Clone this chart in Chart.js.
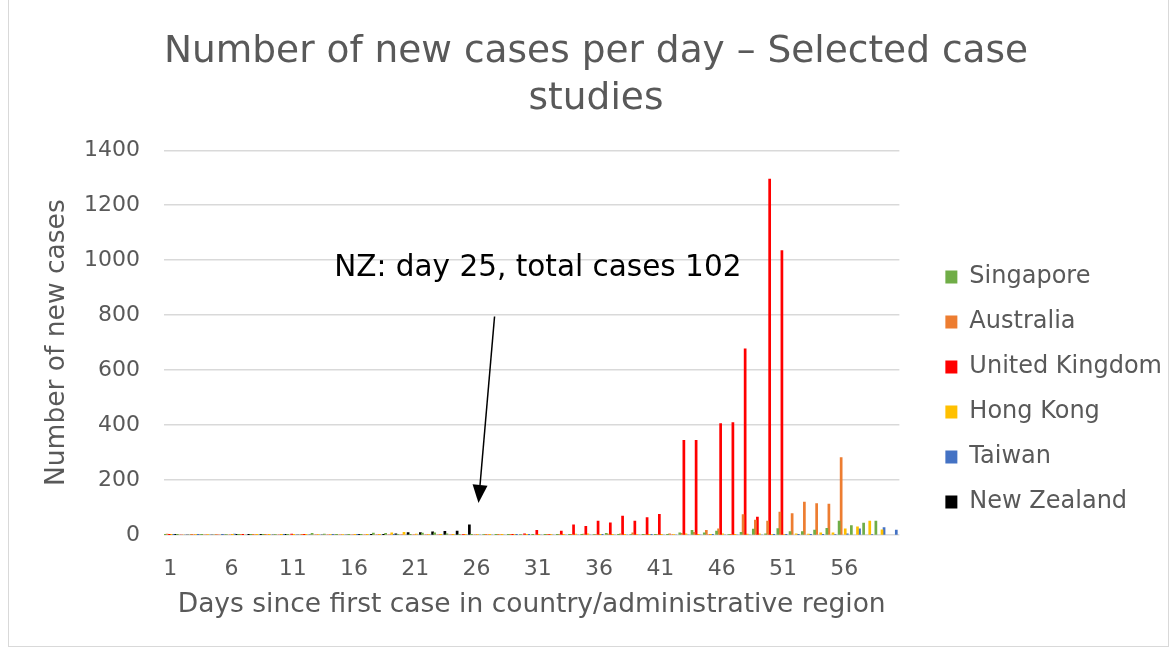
<!DOCTYPE html>
<html><head><meta charset="utf-8">
<script src="https://cdn.jsdelivr.net/npm/chart.js@4.4.1/dist/chart.umd.min.js"></script>
<style>
html,body{margin:0;padding:0;background:#fff;}
#wrap{position:relative;width:1176px;height:648px;overflow:hidden;}
#frame{position:absolute;left:8px;top:-1px;width:1159px;height:646px;border:1px solid #d9d9d9;pointer-events:none;}
canvas{position:absolute;left:0;top:0;}
</style></head><body>
<div id="wrap"><canvas id="c" width="1176" height="648"></canvas><div id="frame"></div></div>
<script>
// ---- Data ----
const days = ['1','2','3','4','5','6','7','8','9','10','11','12','13','14','15','16','17','18','19','20',
  '21','22','23','24','25','26','27','28','29','30','31','32','33','34','35','36','37','38','39','40',
  '41','42','43','44','45','46','47','48','49','50','51','52','53','54','55','56','57','58','59','60'];

const singapore = [1,2,0,1,0,3,1,2,2,3, 1,0,6,4,2,1,2,7,6,3, 2,7,8,5,3,2,3,1,1,3,
  1,2,2,1,1,3,6,2,3,2, 1,2,8,17,8,15,3,10,22,5, 24,13,13,18,25,51,35,44,51,null];
const australia = [4,0,1,0,3,0,2,1,1,0, 0,1,0,0,0,0,0,0,0,0, 0,0,0,0,0,0,2,1,2,0,
  0,2,3,2,4,3,4,5,8,3, 3,5,6,10,17,23,2,75,55,51, 84,78,120,115,113,282,null,null,null,null];
const unitedKingdom = [2,0,0,0,0,0,1,0,0,0, 4,1,0,0,0,0,0,0,0,0, 0,0,0,0,3,0,0,0,2,5,
  17,3,15,37,32,51,45,69,51,64, 76,0,345,345,0,406,409,678,66,1295, 1035,null,null,null,null,null,null,null,null,null];
const hongKong = [2,0,3,3,0,2,0,2,1,1, 1,2,3,3,3,1,1,2,8,10, 4,3,2,1,2,3,1,2,3,2,
  1,3,2,4,5,2,1,2,3,1, 2,3,5,2,1,5,2,4,5,3, 3,5,4,8,8,23,30,51,19,null];
const taiwan = [1,0,2,0,1,4,0,0,0,1, 0,0,0,1,0,1,0,0,2,0, 0,0,0,0,0,0,0,0,2,1,
  0,0,0,0,0,1,0,0,0,1, 0,0,0,0,1,0,0,0,0,2, 2,1,2,2,3,5,23,3,27,18];
const newZealand = [1,0,0,0,0,1,1,1,0,1, 0,0,0,0,0,1,2,2,5,9, 9,12,14,15,37,null,null,null,null,null,
  null,null,null,null,null,null,null,null,null,null, null,null,null,null,null,null,null,null,null,null,
  null,null,null,null,null,null,null,null,null,null];

const seriesNames = ['Singapore','Australia','United Kingdom','Hong Kong','Taiwan','New Zealand'];
const seriesValues = [singapore, australia, unitedKingdom, hongKong, taiwan, newZealand];
const seriesColors = ['#70AD47','#ED7D31','#FF0000','#FFC000','#4472C4','#000000'];

const yTicks = [0,200,400,600,800,1000,1200,1400];
const titleLines = ['Number of new cases per day \u2013 Selected case', 'studies'];
const xTitle = 'Days since first case in country/administrative region';
const yTitle = 'Number of new cases';

// annotation (positions in data coordinates: category index, value)
const note = {text:'NZ: day 25, total cases 102', textAt:[30.0, 972], arrowFrom:[26.47, 795], arrowTo:[25.16, 117]};

const FONT = "'DejaVu Sans', Verdana, sans-serif";
Chart.defaults.font.family = FONT;
Chart.defaults.color = '#595959';

const annotationPlugin = {
  id:'nzNote',
  afterDatasetsDraw(chart){
    const {ctx} = chart; const x = chart.scales.x, y = chart.scales.y;
    ctx.save();
    ctx.fillStyle = '#000'; ctx.strokeStyle = '#000';
    ctx.font = '29.5px ' + FONT; ctx.textAlign = 'center'; ctx.textBaseline = 'middle';
    ctx.fillText(note.text, x.getPixelForValue(note.textAt[0]), y.getPixelForValue(note.textAt[1]));
    const x1 = x.getPixelForValue(note.arrowFrom[0]), y1 = y.getPixelForValue(note.arrowFrom[1]);
    const x2 = x.getPixelForValue(note.arrowTo[0]), y2 = y.getPixelForValue(note.arrowTo[1]);
    const ang = Math.atan2(y2-y1, x2-x1), hl = 18, hw = 7.5;
    const bx = x2 - hl*Math.cos(ang), by = y2 - hl*Math.sin(ang);
    ctx.lineWidth = 1.5;
    ctx.beginPath(); ctx.moveTo(x1,y1); ctx.lineTo(bx,by); ctx.stroke();
    ctx.beginPath(); ctx.moveTo(x2,y2);
    ctx.lineTo(bx + hw*Math.sin(ang), by - hw*Math.cos(ang));
    ctx.lineTo(bx - hw*Math.sin(ang), by + hw*Math.cos(ang));
    ctx.closePath(); ctx.fill();
    ctx.restore();
  }
};

new Chart(document.getElementById('c'), {
  type:'bar',
  data:{
    labels: days,
    datasets: seriesNames.map((n,i)=>({label:n, data:seriesValues[i], backgroundColor:seriesColors[i], borderWidth:0}))
  },
  options:{
    responsive:false, animation:false,
    layout:{padding:{left:20,right:4,top:0,bottom:27}},
    datasets:{bar:{categoryPercentage:1, barPercentage:1}},
    plugins:{
      title:{display:true,text:titleLines,color:'#595959',font:{size:37.5,lineHeight:1.25,weight:'normal'},padding:{top:29,bottom:27.5}},
      legend:{position:'right',align:'end',fullSize:false,
        labels:{boxWidth:12,boxHeight:13,padding:21,font:{size:24},color:'#595959'}},
      tooltip:{enabled:false}
    },
    scales:{
      x:{grid:{display:false},border:{display:false},
        ticks:{autoSkip:false,maxRotation:0,minRotation:0,padding:13,font:{size:22},color:'#595959',
          callback:(v,i)=> i%5===0 ? days[i] : ''},
        title:{display:true,text:xTitle,font:{size:26.5},color:'#595959',padding:{top:-6.3,bottom:0}}},
      y:{min:0,max:1400,
        afterBuildTicks:s=>{s.ticks = yTicks.map(v=>({value:v}));},
        ticks:{padding:24,font:{size:22},color:'#595959',callback:v=>String(v)},
        grid:{color:'#d9d9d9',lineWidth:1.5,drawTicks:false},border:{display:false},
        title:{display:true,text:yTitle,font:{size:26.5},color:'#595959',padding:{top:21,bottom:0}},
        afterFit:s=>{s.width=144;}},
      spacer:{type:'linear',position:'right',display:false,grid:{display:false},border:{display:false},
        ticks:{display:false},afterFit:s=>{s.width=25;}}
    }
  },
  plugins:[annotationPlugin]
});
</script>
</body></html>
